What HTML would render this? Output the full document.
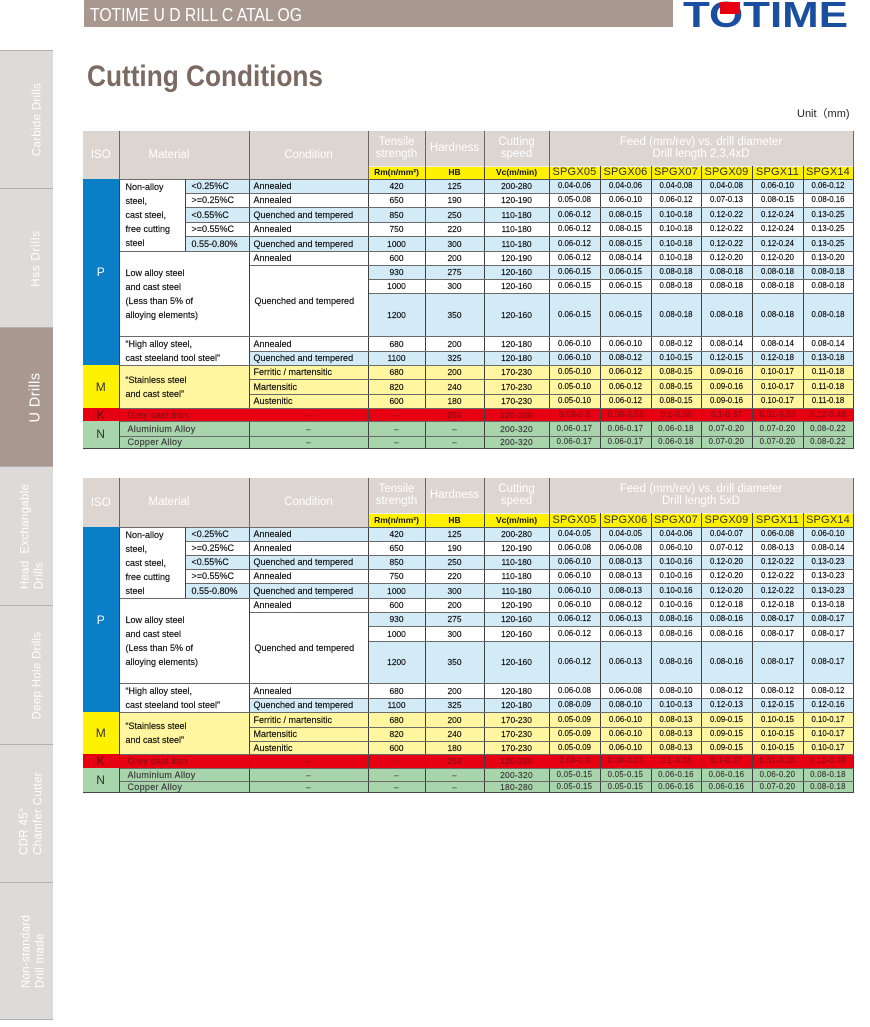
<!DOCTYPE html>
<html>
<head>
<meta charset="utf-8">
<style>
html,body{margin:0;padding:0;}
body{width:870px;height:1027px;background:#fff;position:relative;overflow:hidden;font-family:"Liberation Sans","Noto Sans CJK SC",sans-serif;}
.tab{position:absolute;left:0;width:53px;background:#dcdbd9;border-top:1px solid #b5b0ad;box-sizing:border-box;overflow:hidden;}
.tab.act{background:#a89890;}
.rot{position:absolute;left:50%;top:50%;width:140px;height:53px;margin-left:-70px;margin-top:-26.5px;transform:rotate(-90deg);color:#fff;font-size:11.5px;letter-spacing:0.3px;}
.rot .ln{position:absolute;left:0;width:100%;text-align:center;line-height:14px;white-space:nowrap;}
.rot .blk{display:inline-block;text-align:left;}
.t{position:absolute;left:83px;border-collapse:collapse;table-layout:fixed;width:770px;font-family:"Liberation Sans",sans-serif;}
.t th{background:#ddd5d0;color:#fff;font-weight:normal;font-size:11.5px;line-height:12px;border-left:1px solid #6e6561;border-right:1px solid #6e6561;padding:0;text-align:center;vertical-align:middle;white-space:nowrap;}
.t th.first{border-left:none;}
.t th.matl{text-align:left;padding-left:29px;}
.t td{padding:0;border:1px solid #6a6a6a;border-left-color:#404040;border-right-color:#404040;font-size:8.4px;color:#0a0a0a;-webkit-text-stroke:0.15px;text-align:center;vertical-align:middle;white-space:nowrap;overflow:hidden;line-height:10px;background:#fff;}
.t thead td{background:#fff100;border-top:1px solid #f2eeea;border-bottom:1px solid #555;font-size:11px;line-height:11px;color:#333;letter-spacing:0.2px;-webkit-text-stroke:0;}
.t thead td.u{font-size:8.5px;font-weight:bold;color:#111;letter-spacing:0;}
.t tbody td:nth-last-child(-n+6){font-size:7.8px;}
.t tr.b td{background:#d3eaf7;}
.t tr.y td{background:#fff69f;}
.t tr.k td{background:#e60012;color:#8e0b14;letter-spacing:0.3px;}
.t tr.n td{background:#a8d5ab;color:#3a3a3a;letter-spacing:0.3px;}
.t tr td.w{background:#fff;}
.t tr td.l{text-align:left;padding-left:6px;font-size:9px;}
.t tr td.kn{padding-left:8px;}
.t tr td.ml{line-height:14px;white-space:normal;}
.t tr td.c{text-align:left;padding-left:4px;font-size:9px;}
.t tr td.cq{text-align:left;padding-left:5px;font-size:9px;}
.t tr td.iso{font-size:12px;border-left:none;border-top:none;border-bottom:none;-webkit-text-stroke:0;}
.t tr td.p{background:#0a7fc7;color:#fff;}
.t tr td.mm{background:#fff200;color:#333;}
.t tr td.kk{background:#e60012;color:#6b0a0a;}
.t tr td.nn{background:#a8d5ab;color:#333;}
.t tr td.bot{border-bottom:1px solid #444;}
.t tr.last td{border-bottom:1px solid #444;}
</style>
</head>
<body>

<svg style="position:absolute;left:0;top:0" width="870" height="130">
  <rect x="84" y="0" width="589" height="27" fill="#a89890"/>
  <text x="90" y="21" font-family="Liberation Sans" font-size="18" fill="#ffffff" textLength="212" lengthAdjust="spacingAndGlyphs">TOTIME U D RILL C ATAL OG</text>
  <text x="683" y="27" font-family="Liberation Sans" font-weight="bold" font-size="36" fill="#1a4e9e" textLength="165" lengthAdjust="spacingAndGlyphs">TOTIME</text>
  <rect x="720" y="2" width="20" height="12" fill="#e60012"/>
  <text x="87" y="86" font-family="Liberation Sans" font-weight="bold" font-size="30" fill="#7a6a62" textLength="236" lengthAdjust="spacingAndGlyphs">Cutting Conditions</text>
  <text x="797" y="117" font-family="Liberation Sans, Noto Sans CJK SC, sans-serif" font-size="11" fill="#222">Unit（mm)</text>
</svg>

<!-- Sidebar -->
<div class="tab" style="top:50px;height:138px;">
  <div class="rot"><div class="ln" style="top:30px;">Carbide Drills</div></div>
</div>
<div class="tab" style="top:188px;height:139px;">
  <div class="rot"><div class="ln" style="top:29px;letter-spacing:0.8px;">Hss Drills</div></div>
</div>
<div class="tab act" style="top:327px;height:139px;">
  <div class="rot"><div class="ln" style="top:27px;font-size:14.5px;letter-spacing:0.4px;line-height:16px;">U Drills</div></div>
</div>
<div class="tab" style="top:466px;height:139px;">
  <div class="rot"><div class="ln" style="top:18px;"><span class="blk">Head&nbsp; Exchangable<br>Drills</span></div></div>
</div>
<div class="tab" style="top:605px;height:139px;">
  <div class="rot"><div class="ln" style="top:30px;">Deep Hole Drills</div></div>
</div>
<div class="tab" style="top:744px;height:138px;">
  <div class="rot"><div class="ln" style="top:17px;"><span class="blk">CDR 45°<br>Chamfer Cutter</span></div></div>
</div>
<div class="tab" style="top:882px;height:138px;border-bottom:1px solid #b5b0ad;">
  <div class="rot"><div class="ln" style="top:19px;"><span class="blk">Non-standard<br>Drill made</span></div></div>
</div>

<!-- TABLE 1 -->
<table class="t" style="top:131px;">
<colgroup><col style="width:36px"><col style="width:66px"><col style="width:64px"><col style="width:119px"><col style="width:57px"><col style="width:59px"><col style="width:65px"><col style="width:51px"><col style="width:51px"><col style="width:50px"><col style="width:51px"><col style="width:51px"><col style="width:50px"></colgroup>
<thead>
<tr style="height:35px"><th rowspan="2" class="first">ISO</th><th colspan="2" rowspan="2" class="matl">Material</th><th rowspan="2">Condition</th><th>Tensile<br>strength</th><th>Hardness</th><th>Cutting<br>speed</th><th colspan="6">Feed (mm/rev) vs. drill diameter<br>Drill length 2,3,4xD</th></tr>
<tr style="height:13px"><td class="u">Rm(n/mm²)</td><td class="u">HB</td><td class="u">Vc(m/min)</td><td>SPGX05</td><td>SPGX06</td><td>SPGX07</td><td>SPGX09</td><td>SPGX11</td><td>SPGX14</td></tr>
</thead>
<tbody>
<tr class="b" style="height:14px"><td rowspan="11" class="iso p">P</td><td rowspan="5" class="l w ml">Non-alloy<br>steel,<br>cast steel,<br>free cutting<br>steel</td><td class="l">&lt;0.25%C</td><td class="c">Annealed</td><td>420</td><td>125</td><td>200-280</td><td>0.04-0.06</td><td>0.04-0.06</td><td>0.04-0.08</td><td>0.04-0.08</td><td>0.06-0.10</td><td>0.06-0.12</td></tr>
<tr style="height:14px"><td class="l">&gt;=0.25%C</td><td class="c">Annealed</td><td>650</td><td>190</td><td>120-190</td><td>0.05-0.08</td><td>0.06-0.10</td><td>0.06-0.12</td><td>0.07-0.13</td><td>0.08-0.15</td><td>0.08-0.16</td></tr>
<tr class="b" style="height:15px"><td class="l">&lt;0.55%C</td><td class="c">Quenched and tempered</td><td>850</td><td>250</td><td>110-180</td><td>0.06-0.12</td><td>0.08-0.15</td><td>0.10-0.18</td><td>0.12-0.22</td><td>0.12-0.24</td><td>0.13-0.25</td></tr>
<tr style="height:14px"><td class="l">&gt;=0.55%C</td><td class="c">Annealed</td><td>750</td><td>220</td><td>110-180</td><td>0.06-0.12</td><td>0.08-0.15</td><td>0.10-0.18</td><td>0.12-0.22</td><td>0.12-0.24</td><td>0.13-0.25</td></tr>
<tr class="b" style="height:15px"><td class="l">0.55-0.80%</td><td class="c">Quenched and tempered</td><td>1000</td><td>300</td><td>110-180</td><td>0.06-0.12</td><td>0.08-0.15</td><td>0.10-0.18</td><td>0.12-0.22</td><td>0.12-0.24</td><td>0.13-0.25</td></tr>
<tr style="height:14px"><td colspan="2" rowspan="4" class="l w ml">Low alloy steel<br>and cast steel<br>(Less than 5% of<br>alloying elements)</td><td class="c">Annealed</td><td>600</td><td>200</td><td>120-190</td><td>0.06-0.12</td><td>0.08-0.14</td><td>0.10-0.18</td><td>0.12-0.20</td><td>0.12-0.20</td><td>0.13-0.20</td></tr>
<tr class="b" style="height:14px"><td rowspan="3" class="cq w">Quenched and tempered</td><td>930</td><td>275</td><td>120-160</td><td>0.06-0.15</td><td>0.06-0.15</td><td>0.08-0.18</td><td>0.08-0.18</td><td>0.08-0.18</td><td>0.08-0.18</td></tr>
<tr style="height:14px"><td>1000</td><td>300</td><td>120-160</td><td>0.06-0.15</td><td>0.06-0.15</td><td>0.08-0.18</td><td>0.08-0.18</td><td>0.08-0.18</td><td>0.08-0.18</td></tr>
<tr class="b" style="height:43px"><td>1200</td><td>350</td><td>120-160</td><td>0.06-0.15</td><td>0.06-0.15</td><td>0.08-0.18</td><td>0.08-0.18</td><td>0.08-0.18</td><td>0.08-0.18</td></tr>
<tr style="height:15px"><td colspan="2" rowspan="2" class="l w ml">“High alloy steel,<br>cast steeland tool steel”</td><td class="c">Annealed</td><td>680</td><td>200</td><td>120-180</td><td>0.06-0.10</td><td>0.06-0.10</td><td>0.08-0.12</td><td>0.08-0.14</td><td>0.08-0.14</td><td>0.08-0.14</td></tr>
<tr class="b" style="height:14px"><td class="c">Quenched and tempered</td><td>1100</td><td>325</td><td>120-180</td><td>0.06-0.10</td><td>0.08-0.12</td><td>0.10-0.15</td><td>0.12-0.15</td><td>0.12-0.18</td><td>0.13-0.18</td></tr>
<tr class="y" style="height:14px"><td rowspan="3" class="iso mm">M</td><td colspan="2" rowspan="3" class="l ml">“Stainless steel<br>and cast steel”</td><td class="c">Ferritic / martensitic</td><td>680</td><td>200</td><td>170-230</td><td>0.05-0.10</td><td>0.06-0.12</td><td>0.08-0.15</td><td>0.09-0.16</td><td>0.10-0.17</td><td>0.11-0.18</td></tr>
<tr class="y" style="height:15px"><td class="c">Martensitic</td><td>820</td><td>240</td><td>170-230</td><td>0.05-0.10</td><td>0.06-0.12</td><td>0.08-0.15</td><td>0.09-0.16</td><td>0.10-0.17</td><td>0.11-0.18</td></tr>
<tr class="y" style="height:14px"><td class="c">Austenitic</td><td>600</td><td>180</td><td>170-230</td><td>0.05-0.10</td><td>0.06-0.12</td><td>0.08-0.15</td><td>0.09-0.16</td><td>0.10-0.17</td><td>0.11-0.18</td></tr>
<tr class="k" style="height:13px"><td class="iso kk">K</td><td colspan="2" class="l kn">Grey cast iron</td><td>–</td><td>–</td><td>250</td><td>120-200</td><td>0.09-0.3</td><td>0.09-0.33</td><td>0.1-0.36</td><td>0.1-0.37</td><td>0.01-0.38</td><td>0.12-0.48</td></tr>
<tr class="n" style="height:15px"><td rowspan="2" class="iso nn bot">N</td><td colspan="2" class="l kn">Aluminium Alloy</td><td>–</td><td>–</td><td>–</td><td>200-320</td><td>0.06-0.17</td><td>0.06-0.17</td><td>0.06-0.18</td><td>0.07-0.20</td><td>0.07-0.20</td><td>0.08-0.22</td></tr>
<tr class="n last" style="height:12px"><td colspan="2" class="l kn">Copper Alloy</td><td>–</td><td>–</td><td>–</td><td>200-320</td><td>0.06-0.17</td><td>0.06-0.17</td><td>0.06-0.18</td><td>0.07-0.20</td><td>0.07-0.20</td><td>0.08-0.22</td></tr>
</tbody>
</table>

<!-- TABLE 2 -->
<table class="t" style="top:478px;">
<colgroup><col style="width:36px"><col style="width:66px"><col style="width:64px"><col style="width:119px"><col style="width:57px"><col style="width:59px"><col style="width:65px"><col style="width:51px"><col style="width:51px"><col style="width:50px"><col style="width:51px"><col style="width:51px"><col style="width:50px"></colgroup>
<thead>
<tr style="height:35px"><th rowspan="2" class="first">ISO</th><th colspan="2" rowspan="2" class="matl">Material</th><th rowspan="2">Condition</th><th>Tensile<br>strength</th><th>Hardness</th><th>Cutting<br>speed</th><th colspan="6">Feed (mm/rev) vs. drill diameter<br>Drill length 5xD</th></tr>
<tr style="height:14px"><td class="u">Rm(n/mm²)</td><td class="u">HB</td><td class="u">Vc(m/min)</td><td>SPGX05</td><td>SPGX06</td><td>SPGX07</td><td>SPGX09</td><td>SPGX11</td><td>SPGX14</td></tr>
</thead>
<tbody>
<tr class="b" style="height:14px"><td rowspan="11" class="iso p">P</td><td rowspan="5" class="l w ml">Non-alloy<br>steel,<br>cast steel,<br>free cutting<br>steel</td><td class="l">&lt;0.25%C</td><td class="c">Annealed</td><td>420</td><td>125</td><td>200-280</td><td>0.04-0.05</td><td>0.04-0.05</td><td>0.04-0.06</td><td>0.04-0.07</td><td>0.06-0.08</td><td>0.06-0.10</td></tr>
<tr style="height:14px"><td class="l">&gt;=0.25%C</td><td class="c">Annealed</td><td>650</td><td>190</td><td>120-190</td><td>0.06-0.08</td><td>0.06-0.08</td><td>0.06-0.10</td><td>0.07-0.12</td><td>0.08-0.13</td><td>0.08-0.14</td></tr>
<tr class="b" style="height:14px"><td class="l">&lt;0.55%C</td><td class="c">Quenched and tempered</td><td>850</td><td>250</td><td>110-180</td><td>0.06-0.10</td><td>0.08-0.13</td><td>0.10-0.16</td><td>0.12-0.20</td><td>0.12-0.22</td><td>0.13-0.23</td></tr>
<tr style="height:14px"><td class="l">&gt;=0.55%C</td><td class="c">Annealed</td><td>750</td><td>220</td><td>110-180</td><td>0.06-0.10</td><td>0.08-0.13</td><td>0.10-0.16</td><td>0.12-0.20</td><td>0.12-0.22</td><td>0.13-0.23</td></tr>
<tr class="b" style="height:15px"><td class="l">0.55-0.80%</td><td class="c">Quenched and tempered</td><td>1000</td><td>300</td><td>110-180</td><td>0.06-0.10</td><td>0.08-0.13</td><td>0.10-0.16</td><td>0.12-0.20</td><td>0.12-0.22</td><td>0.13-0.23</td></tr>
<tr style="height:14px"><td colspan="2" rowspan="4" class="l w ml">Low alloy steel<br>and cast steel<br>(Less than 5% of<br>alloying elements)</td><td class="c">Annealed</td><td>600</td><td>200</td><td>120-190</td><td>0.06-0.10</td><td>0.08-0.12</td><td>0.10-0.16</td><td>0.12-0.18</td><td>0.12-0.18</td><td>0.13-0.18</td></tr>
<tr class="b" style="height:14px"><td rowspan="3" class="cq w">Quenched and tempered</td><td>930</td><td>275</td><td>120-160</td><td>0.06-0.12</td><td>0.06-0.13</td><td>0.08-0.16</td><td>0.08-0.16</td><td>0.08-0.17</td><td>0.08-0.17</td></tr>
<tr style="height:15px"><td>1000</td><td>300</td><td>120-160</td><td>0.06-0.12</td><td>0.06-0.13</td><td>0.08-0.16</td><td>0.08-0.16</td><td>0.08-0.17</td><td>0.08-0.17</td></tr>
<tr class="b" style="height:42px"><td>1200</td><td>350</td><td>120-160</td><td>0.06-0.12</td><td>0.06-0.13</td><td>0.08-0.16</td><td>0.08-0.16</td><td>0.08-0.17</td><td>0.08-0.17</td></tr>
<tr style="height:15px"><td colspan="2" rowspan="2" class="l w ml">“High alloy steel,<br>cast steeland tool steel”</td><td class="c">Annealed</td><td>680</td><td>200</td><td>120-180</td><td>0.06-0.08</td><td>0.06-0.08</td><td>0.08-0.10</td><td>0.08-0.12</td><td>0.08-0.12</td><td>0.08-0.12</td></tr>
<tr class="b" style="height:14px"><td class="c">Quenched and tempered</td><td>1100</td><td>325</td><td>120-180</td><td>0.08-0.09</td><td>0.08-0.10</td><td>0.10-0.13</td><td>0.12-0.13</td><td>0.12-0.15</td><td>0.12-0.16</td></tr>
<tr class="y" style="height:15px"><td rowspan="3" class="iso mm">M</td><td colspan="2" rowspan="3" class="l ml">“Stainless steel<br>and cast steel”</td><td class="c">Ferritic / martensitic</td><td>680</td><td>200</td><td>170-230</td><td>0.05-0.09</td><td>0.06-0.10</td><td>0.08-0.13</td><td>0.09-0.15</td><td>0.10-0.15</td><td>0.10-0.17</td></tr>
<tr class="y" style="height:14px"><td class="c">Martensitic</td><td>820</td><td>240</td><td>170-230</td><td>0.05-0.09</td><td>0.06-0.10</td><td>0.08-0.13</td><td>0.09-0.15</td><td>0.10-0.15</td><td>0.10-0.17</td></tr>
<tr class="y" style="height:13px"><td class="c">Austenitic</td><td>600</td><td>180</td><td>170-230</td><td>0.05-0.09</td><td>0.06-0.10</td><td>0.08-0.13</td><td>0.09-0.15</td><td>0.10-0.15</td><td>0.10-0.17</td></tr>
<tr class="k" style="height:14px"><td class="iso kk">K</td><td colspan="2" class="l kn">Grey cast iron</td><td>–</td><td>–</td><td>250</td><td>120-200</td><td>0.09-0.3</td><td>0.09-0.33</td><td>0.1-0.36</td><td>0.1-0.37</td><td>0.01-0.38</td><td>0.12-0.48</td></tr>
<tr class="n" style="height:13px"><td rowspan="2" class="iso nn bot">N</td><td colspan="2" class="l kn">Aluminium Alloy</td><td>–</td><td>–</td><td>–</td><td>200-320</td><td>0.05-0.15</td><td>0.05-0.15</td><td>0.06-0.16</td><td>0.06-0.16</td><td>0.06-0.20</td><td>0.08-0.18</td></tr>
<tr class="n last" style="height:11px"><td colspan="2" class="l kn">Copper Alloy</td><td>–</td><td>–</td><td>–</td><td>180-280</td><td>0.05-0.15</td><td>0.05-0.15</td><td>0.06-0.16</td><td>0.06-0.16</td><td>0.07-0.20</td><td>0.08-0.18</td></tr>
</tbody>
</table>

</body>
</html>
